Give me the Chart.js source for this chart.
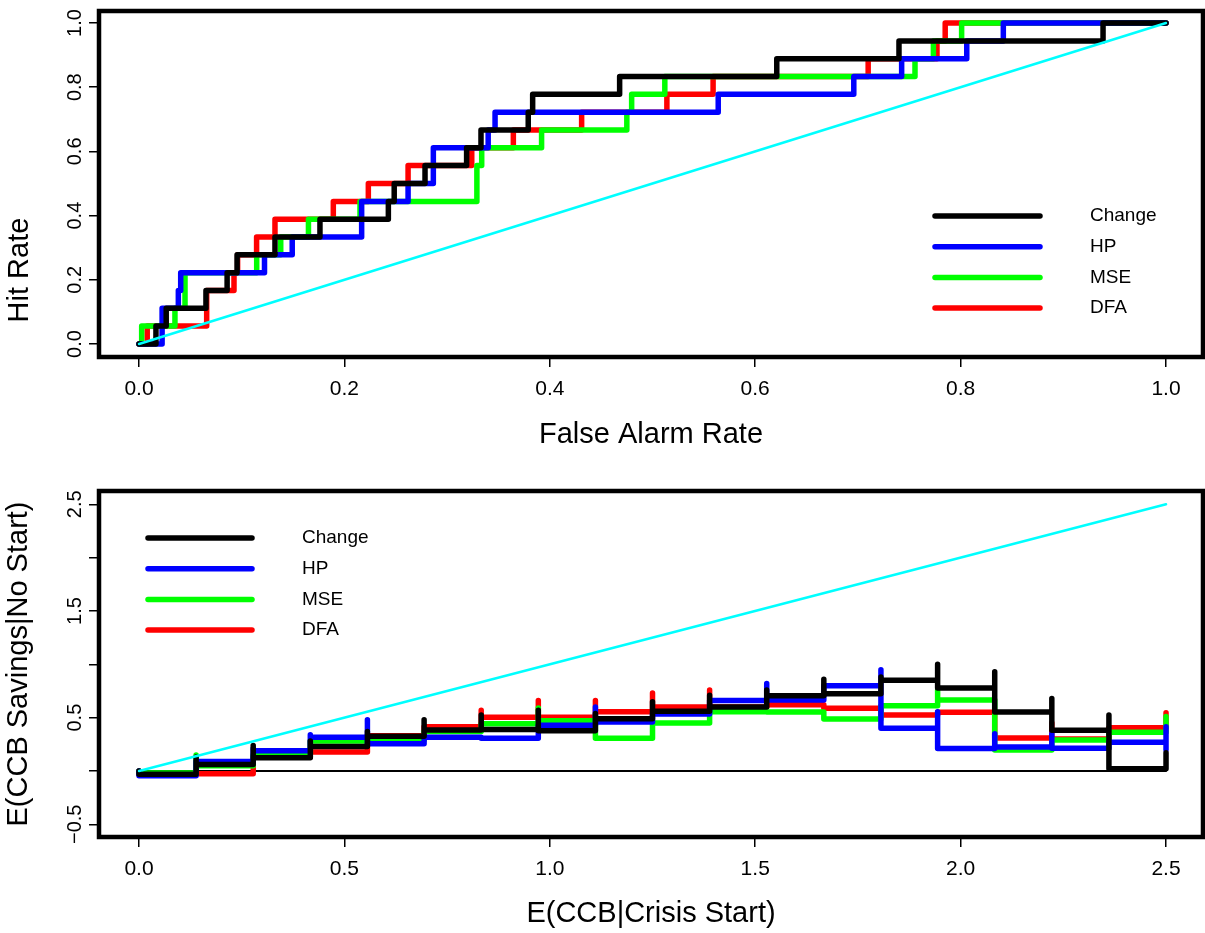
<!DOCTYPE html>
<html lang="en">
<head>
  <meta charset="utf-8">
  <title>Hit rate and CCB savings</title>
  <script src="https://cdn.jsdelivr.net/npm/chart.js@4.4.1/dist/chart.umd.min.js"></script>
  <style>
    html, body { margin: 0; padding: 0; background: #fff; }
    #wrap { position: relative; width: 1205px; height: 933px; }
    canvas { position: absolute; left: 0; }
    #roc { top: 0; }
    #ccb { top: 466px; }
  </style>
</head>
<body>
<div id="wrap">
  <canvas id="roc" width="1205" height="466"></canvas>
  <canvas id="ccb" width="1205" height="467"></canvas>
</div>
<script>
var seriesNames = ['Change', 'HP', 'MSE', 'DFA'];
var seriesColors = ['#000000', '#0000ff', '#00ff00', '#ff0000'];
var diagColor = '#00ffff';

// top panel: ROC steps, false alarm rate -> hit rate
var farChange = [0, 0.0165, 0.0265, 0.0652, 0.0858, 0.0955, 0.1324, 0.1762, 0.2428, 0.2485, 0.2785, 0.319, 0.333, 0.379, 0.3833, 0.468, 0.621, 0.740, 0.9387, 1];
var hitChange = [0, 0.056, 0.111, 0.167, 0.222, 0.278, 0.333, 0.389, 0.444, 0.5, 0.556, 0.611, 0.667, 0.722, 0.778, 0.833, 0.889, 0.944, 1, 1];
var farHP = [0, 0.0225, 0.0383, 0.0406, 0.1222, 0.1492, 0.2168, 0.262, 0.2866, 0.340, 0.3467, 0.564, 0.696, 0.7426, 0.806, 0.8416, 1];
var hitHP = [0, 0.111, 0.167, 0.222, 0.278, 0.333, 0.444, 0.5, 0.611, 0.667, 0.722, 0.778, 0.833, 0.889, 0.944, 1, 1];
var farMSE = [0, 0.0026, 0.035, 0.0448, 0.1146, 0.138, 0.165, 0.2152, 0.329, 0.3337, 0.392, 0.475, 0.4797, 0.512, 0.7556, 0.7735, 0.801, 1];
var hitMSE = [0, 0.056, 0.111, 0.222, 0.278, 0.333, 0.389, 0.444, 0.556, 0.611, 0.667, 0.722, 0.778, 0.833, 0.889, 0.944, 1, 1];
var farDFA = [0, 0.008, 0.0659, 0.0925, 0.096, 0.1145, 0.1324, 0.1892, 0.2233, 0.262, 0.324, 0.3645, 0.431, 0.514, 0.559, 0.710, 0.777, 0.785, 1];
var hitDFA = [0, 0.056, 0.167, 0.222, 0.278, 0.333, 0.389, 0.444, 0.5, 0.556, 0.611, 0.667, 0.722, 0.778, 0.833, 0.889, 0.944, 1, 1];
var rocDiag = [0, 1];
var rocTicks = [0, 0.2, 0.4, 0.6, 0.8, 1];
var rocTickLabels = ['0.0', '0.2', '0.4', '0.6', '0.8', '1.0'];

// bottom panel: savings, one value per interval between the breakpoints
var ccbStart = [0, 0.139, 0.278, 0.417, 0.556, 0.694, 0.833, 0.972, 1.111, 1.25, 1.389, 1.528, 1.667, 1.806, 1.944, 2.083, 2.222, 2.361, 2.5];
var saveChange = [-0.03, 0.06, 0.125, 0.23, 0.325, 0.384, 0.39, 0.378, 0.49, 0.56, 0.60, 0.705, 0.725, 0.85, 0.778, 0.553, 0.381, 0.02];
var saveHP = [-0.045, 0.09, 0.19, 0.316, 0.256, 0.316, 0.306, 0.428, 0.46, 0.535, 0.66, 0.665, 0.80, 0.40, 0.21, 0.225, 0.213, 0.269];
var saveMSE = [-0.02, 0.05, 0.15, 0.28, 0.29, 0.37, 0.443, 0.47, 0.306, 0.45, 0.556, 0.553, 0.487, 0.612, 0.665, 0.197, 0.29, 0.362];
var saveDFA = [-0.03, -0.025, 0.13, 0.178, 0.33, 0.415, 0.503, 0.503, 0.556, 0.60, 0.60, 0.62, 0.587, 0.525, 0.55, 0.31, 0.30, 0.405];
// value at each breakpoint itself (the spikes)
var tipChange = [0, 0.13, 0.24, 0.28, 0.37, 0.48, 0.525, 0.57, 0.54, 0.65, 0.71, 0.76, 0.86, 0.88, 1.0, 0.93, 0.68, 0.525, 0.17];
var tipHP = [0, 0.09, 0.21, 0.34, 0.48, 0.316, 0.306, 0.428, 0.60, 0.535, 0.66, 0.82, 0.80, 0.95, 0.556, 0.35, 0.35, 0.269, 0.415];
var tipMSE = [0, 0.15, 0.15, 0.28, 0.29, 0.37, 0.443, 0.59, 0.306, 0.45, 0.556, 0.553, 0.487, 0.612, 0.76, 0.197, 0.29, 0.362, 0.51];
var tipDFA = [0, -0.025, 0.13, 0.178, 0.33, 0.415, 0.57, 0.66, 0.66, 0.73, 0.76, 0.62, 0.587, 0.525, 0.55, 0.31, 0.45, 0.405, 0.546];
var endChange = 0.02, endHP = 0.2, endMSE = 0.362, endDFA = 0.405;
var ccbDiag = [0, 2.5];
var ccbXTicks = [0, 0.5, 1, 1.5, 2, 2.5];
var ccbXLabels = ['0.0', '0.5', '1.0', '1.5', '2.0', '2.5'];
var ccbYTicks = [-0.5, 0, 0.5, 1, 1.5, 2, 2.5];
var ccbYLabels = ['\u22120.5', '', '0.5', '', '1.5', '', '2.5'];

var FONT = '"Liberation Sans", Arial, Helvetica, sans-serif';
Chart.defaults.font.family = FONT;
Chart.defaults.color = '#000';

function rocPoints(far, hit) {
  return far.map(function(v, i) { return {x: v, y: hit[i]}; });
}

function ccbPoints(steps, tips, end) {
  var pts = [];
  for (var k = 0; k < steps.length; k++) {
    pts.push({x: ccbStart[k], y: tips[k]});
    pts.push({x: ccbStart[k], y: steps[k]});
  }
  pts.push({x: ccbStart[steps.length], y: tips[steps.length]});
  pts.push({x: ccbStart[steps.length], y: end});
  return pts;
}

// horizontal first, then up: R's type = "s"
function stepSet(i, pts) {
  return {
    label: seriesNames[i], data: pts, borderColor: seriesColors[i], borderWidth: 5.5,
    stepped: 'before', pointRadius: 0, fill: false,
    borderCapStyle: 'round', borderJoinStyle: 'round'
  };
}

function plainSet(pts, color, width) {
  return { data: pts, borderColor: color, borderWidth: width, pointRadius: 0, fill: false, borderCapStyle: 'round' };
}

// R style frame round the plot region
var frame = {
  id: 'frame',
  afterDraw: function(chart) {
    var a = chart.chartArea, ctx = chart.ctx;
    ctx.save();
    ctx.strokeStyle = '#000';
    ctx.lineWidth = 4.5;
    ctx.strokeRect(a.left, a.top, a.right - a.left, a.bottom - a.top);
    ctx.restore();
  }
};

function rotText(ctx, text, x, y, size) {
  ctx.save();
  ctx.font = size + 'px ' + FONT;
  ctx.fillStyle = '#000';
  ctx.textAlign = 'center';
  ctx.textBaseline = 'middle';
  ctx.translate(x, y);
  ctx.rotate(-Math.PI / 2);
  ctx.fillText(text, 0, 0);
  ctx.restore();
}

// rotated y tick labels, plus an optional side title placed by hand
function yLabels(values, labels, sideTitle) {
  return {
    id: 'ylabels',
    afterDraw: function(chart) {
      var s = chart.scales.y;
      for (var i = 0; i < values.length; i++) {
        if (labels[i]) rotText(chart.ctx, labels[i], 75, s.getPixelForValue(values[i]), 20);
      }
      if (sideTitle) rotText(chart.ctx, sideTitle.text, 19.5, sideTitle.y, 29);
    }
  };
}

function legendBox(x1, x2, xText, y0, gap) {
  return {
    id: 'legendbox',
    afterDatasetsDraw: function(chart) {
      var ctx = chart.ctx;
      ctx.save();
      ctx.font = '19px ' + FONT;
      ctx.textAlign = 'left';
      ctx.textBaseline = 'middle';
      ctx.lineCap = 'round';
      ctx.lineWidth = 5.5;
      for (var i = 0; i < seriesNames.length; i++) {
        var y = y0 + i * gap;
        ctx.strokeStyle = seriesColors[i];
        ctx.beginPath();
        ctx.moveTo(x1, y);
        ctx.lineTo(x2, y);
        ctx.stroke();
        ctx.fillStyle = '#000';
        ctx.fillText(seriesNames[i], xText, y);
      }
      ctx.restore();
    }
  };
}

function axes(o) {
  var tickGrid = { display: true, drawOnChartArea: false, drawTicks: true, tickLength: 10, color: '#000', lineWidth: 1.5 };
  return {
    x: {
      type: 'linear', min: o.xmin, max: o.xmax,
      afterBuildTicks: function(s) { s.ticks = o.xTicks.map(function(v) { return {value: v}; }); },
      afterFit: function(s) { s.height = o.xHeight; },
      grid: tickGrid, border: { display: false },
      ticks: { autoSkip: false, maxRotation: 0, padding: 10, font: { size: 21 },
        callback: function(v, i) { return o.xLabels[i]; } },
      title: { display: true, text: o.xTitle, font: { size: 29 }, padding: { top: 0, bottom: o.xTitlePad } }
    },
    y: {
      type: 'linear', min: o.ymin, max: o.ymax,
      afterBuildTicks: function(s) { s.ticks = o.yTicks.map(function(v) { return {value: v}; }); },
      afterFit: function(s) { s.width = 99; },
      grid: tickGrid, border: { display: false },
      ticks: { display: false },
      title: { display: !!o.yTitle, text: o.yTitle || '', font: { size: 29 }, padding: { top: 2, bottom: 0 } }
    }
  };
}

var common = {
  responsive: false, animation: false, devicePixelRatio: 1,
  plugins: { legend: { display: false }, tooltip: { enabled: false } }
};

new Chart(document.getElementById('roc'), {
  type: 'line',
  data: {
    datasets: [
      plainSet(rocPoints(rocDiag, rocDiag), diagColor, 2.5),
      stepSet(0, rocPoints(farChange, hitChange)),
      stepSet(1, rocPoints(farHP, hitHP)),
      stepSet(2, rocPoints(farMSE, hitMSE)),
      stepSet(3, rocPoints(farDFA, hitDFA))
    ]
  },
  options: Object.assign({}, common, {
    layout: { padding: { top: 11, right: 2, left: 0, bottom: 0 } },
    scales: axes({
      xmin: -0.03895, xmax: 1.03603, ymin: -0.0405, ymax: 1.0374,
      xTicks: rocTicks, xLabels: rocTickLabels, yTicks: rocTicks,
      xHeight: 109, xTitle: 'False Alarm Rate', xTitlePad: 14
    })
  }),
  plugins: [frame, yLabels(rocTicks, rocTickLabels, { text: 'Hit Rate', y: 270 }), legendBox(935, 1040, 1090, 216, 30.7)]
});

new Chart(document.getElementById('ccb'), {
  type: 'line',
  data: {
    datasets: [
      plainSet(rocPoints(ccbDiag, ccbDiag), diagColor, 2.5),
      stepSet(0, ccbPoints(saveChange, tipChange, endChange)),
      stepSet(1, ccbPoints(saveHP, tipHP, endHP)),
      stepSet(2, ccbPoints(saveMSE, tipMSE, endMSE)),
      stepSet(3, ccbPoints(saveDFA, tipDFA, endDFA)),
      plainSet(rocPoints(ccbDiag, [0, 0]), '#000', 2)
    ]
  },
  options: Object.assign({}, common, {
    layout: { padding: { top: 25, right: 2, left: 0, bottom: 0 } },
    scales: axes({
      xmin: -0.09737, xmax: 2.590, ymin: -0.619, ymax: 2.625,
      xTicks: ccbXTicks, xLabels: ccbXLabels, yTicks: ccbYTicks,
      xHeight: 96, xTitle: 'E(CCB|Crisis Start)', xTitlePad: 2, yTitle: 'E(CCB Savings|No Start)'
    })
  }),
  plugins: [frame, yLabels(ccbYTicks, ccbYLabels), legendBox(148, 252, 302, 72, 30.7)]
});
</script>
</body>
</html>
